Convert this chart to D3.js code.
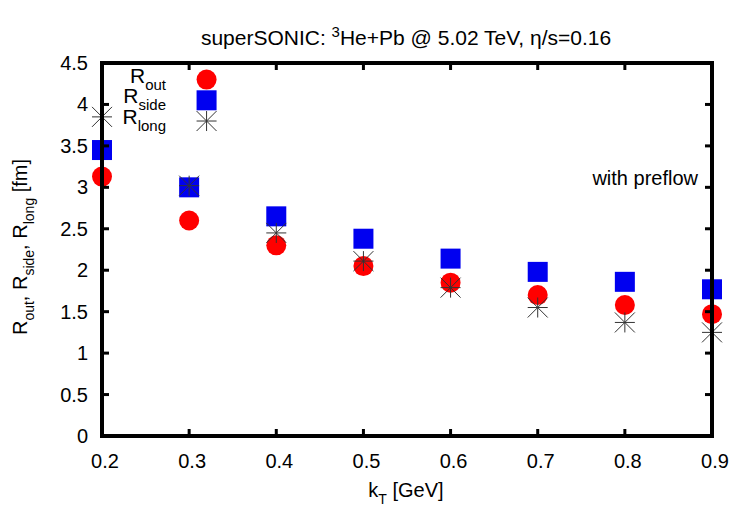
<!DOCTYPE html>
<html>
<head>
<meta charset="utf-8">
<script src="https://cdn.jsdelivr.net/npm/d3@7"></script>
<style>
  body { margin: 0; background: #fff; }
  text { font-family: "Liberation Sans", Arial, sans-serif; fill: #000; }
</style>
</head>
<body>
<div id="chart"></div>
<script>
const kT = [0.2, 0.3, 0.4, 0.5, 0.6, 0.7, 0.8, 0.9];
const rOut = [3.13, 2.6, 2.3, 2.05, 1.85, 1.7, 1.58, 1.47];
const rSide = [3.45, 3.0, 2.65, 2.38, 2.14, 1.98, 1.86, 1.77];
const rLong = [3.85, 3.02, 2.45, 2.11, 1.79, 1.55, 1.37, 1.25];
const xTicks = [0.2, 0.3, 0.4, 0.5, 0.6, 0.7, 0.8, 0.9];
const yTicks = [0, 0.5, 1, 1.5, 2, 2.5, 3, 3.5, 4, 4.5];
const legendX = 0.32;
const legendY = [4.3, 4.05, 3.8];

const width = 750, height = 525;
const margin = { left: 102, right: 38, top: 63, bottom: 89 };

const x = d3.scaleLinear().domain([0.2, 0.9]).range([margin.left, width - margin.right]);
const y = d3.scaleLinear().domain([0, 4.5]).range([height - margin.bottom, margin.top]);

const svg = d3.select("#chart").append("svg")
  .attr("width", width)
  .attr("height", height);

// title
const title = svg.append("text")
  .attr("x", 406).attr("y", 45)
  .attr("text-anchor", "middle")
  .style("font-size", "21px");
title.append("tspan").text("superSONIC: ");
title.append("tspan").attr("dy", -8).style("font-size", "15px").text("3");
title.append("tspan").attr("dy", 8).text("He+Pb @ 5.02 TeV, η/s=0.16");

// tick labels
svg.append("g").selectAll("text")
  .data(xTicks).enter().append("text")
  .attr("x", (d) => x(d) + 3)
  .attr("y", 468)
  .attr("text-anchor", "middle")
  .style("font-size", "20px")
  .text((d) => d3.format(".1f")(d));

svg.append("g").selectAll("text")
  .data(yTicks).enter().append("text")
  .attr("x", 88)
  .attr("y", (d) => y(d) + 7)
  .attr("text-anchor", "end")
  .style("font-size", "20px")
  .text((d) => d);

// axis labels
const xl = svg.append("text")
  .attr("x", 406).attr("y", 497)
  .attr("text-anchor", "middle")
  .style("font-size", "20px");
xl.append("tspan").text("k");
xl.append("tspan").attr("dy", 7).style("font-size", "14px").text("T");
xl.append("tspan").attr("dy", -7).text(" [GeV]");

const yl = svg.append("text")
  .attr("transform", "translate(27,247) rotate(-90)")
  .attr("text-anchor", "middle")
  .style("font-size", "20px");
[["out", ", "], ["side", ", "], ["long", " [fm]"]].forEach(([sub, tail]) => {
  yl.append("tspan").text("R");
  yl.append("tspan").attr("dy", 7).style("font-size", "14px").text(sub);
  yl.append("tspan").attr("dy", -7).text(tail);
});

// markers
const star = (cx, cy, r) =>
  `M${cx - r},${cy}H${cx + r}M${cx},${cy - r}V${cy + r}` +
  `M${cx - r},${cy - r}L${cx + r},${cy + r}M${cx - r},${cy + r}L${cx + r},${cy - r}`;

const plot = svg.append("g");
plot.selectAll("circle.out")
  .data(kT.map((k, i) => [k, rOut[i]]).concat([[legendX, legendY[0]]]))
  .enter().append("circle")
  .attr("cx", (d) => x(d[0]))
  .attr("cy", (d) => y(d[1]))
  .attr("r", 10)
  .attr("fill", "#f00");

plot.selectAll("rect.side")
  .data(kT.map((k, i) => [k, rSide[i]]).concat([[legendX, legendY[1]]]))
  .enter().append("rect")
  .attr("x", (d) => x(d[0]) - 10)
  .attr("y", (d) => y(d[1]) - 10)
  .attr("width", 20)
  .attr("height", 20)
  .attr("fill", "#0000f0");

plot.selectAll("path.long")
  .data(kT.map((k, i) => [k, rLong[i]]).concat([[legendX, legendY[2]]]))
  .enter().append("path")
  .attr("d", (d) => star(x(d[0]), y(d[1]), 10))
  .attr("stroke", "#333")
  .attr("stroke-width", 1)
  .attr("fill", "none");

// legend text
const legNames = ["out", "side", "long"];
legNames.forEach((sub, i) => {
  const t = svg.append("text")
    .attr("x", 166)
    .attr("y", y(legendY[i]) + 3)
    .attr("text-anchor", "end")
    .style("font-size", "21px");
  t.append("tspan").text("R");
  t.append("tspan").attr("dy", 7).style("font-size", "15px").text(sub);
});

svg.append("text")
  .attr("x", 698).attr("y", 185)
  .attr("text-anchor", "end")
  .style("font-size", "20px")
  .text("with preflow");

// ticks on all four sides, pointing inward
const tk = svg.append("g").attr("stroke", "#000").attr("stroke-width", 3);
xTicks.slice(1, -1).forEach((d) => {
  tk.append("line").attr("x1", x(d)).attr("x2", x(d)).attr("y1", y(0)).attr("y2", y(0) - 7);
  tk.append("line").attr("x1", x(d)).attr("x2", x(d)).attr("y1", y(4.5)).attr("y2", y(4.5) + 7);
});
yTicks.slice(1, -1).forEach((d) => {
  tk.append("line").attr("x1", x(0.2)).attr("x2", x(0.2) + 7).attr("y1", y(d)).attr("y2", y(d));
  tk.append("line").attr("x1", x(0.9)).attr("x2", x(0.9) - 7).attr("y1", y(d)).attr("y2", y(d));
});

// frame
svg.append("rect")
  .attr("x", x(0.2)).attr("y", y(4.5))
  .attr("width", x(0.9) - x(0.2))
  .attr("height", y(0) - y(4.5))
  .attr("fill", "none")
  .attr("stroke", "#000")
  .attr("stroke-width", 4);
</script>
</body>
</html>
